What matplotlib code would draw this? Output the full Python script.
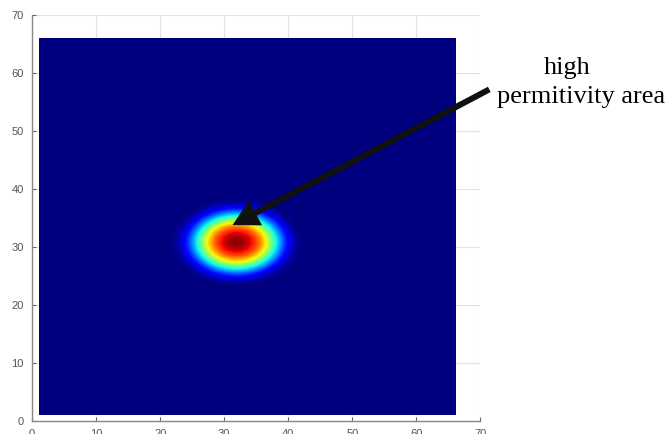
import matplotlib
matplotlib.use("Agg")
import matplotlib.pyplot as plt
import numpy as np

# grid of the field (cell edges 1..66 on both axes)
grid_lo, grid_hi = 1, 66
# blob centre
blob_x, blob_y = 31.8, 30.8
# the blob is wider than tall
blob_aspect = 0.74
# field value vs. horizontal distance from centre
prof_r = [0, 1, 2, 3, 4, 5, 6, 7, 8, 9, 10]
prof_v = [1.0, 0.98, 0.93, 0.85, 0.74, 0.58, 0.40, 0.25, 0.12, 0.04, 0.0]

ticks = [0, 10, 20, 30, 40, 50, 60, 70]
label_top = "high"
label_bottom = "permitivity area"

# build field from the profile
cx = np.arange(grid_lo, grid_hi) + 0.5
X, Y = np.meshgrid(cx, cx)
R = np.sqrt((X - blob_x)**2 + ((Y - blob_y) / blob_aspect)**2)
Z = np.interp(R, prof_r, prof_v)

fig = plt.figure(figsize=(6.69, 4.34), dpi=100)
ax = fig.add_axes([0.048, 0.03, 0.67, 0.935])

im = ax.imshow(Z, cmap="jet", origin="lower", vmin=0, vmax=1,
               extent=[grid_lo, grid_hi, grid_lo, grid_hi],
               interpolation="bilinear", aspect="auto", zorder=1)

ax.set_xlim(0, 70)
ax.set_ylim(0, 70)
ax.set_xticks(ticks)
ax.set_yticks(ticks)
ax.grid(True, color="#e3e3e3", linewidth=0.8)
ax.set_axisbelow(True)

for s in ["top", "right"]:
    ax.spines[s].set_visible(False)
for s in ["left", "bottom"]:
    ax.spines[s].set_color("#888888")
    ax.spines[s].set_linewidth(1.0)

ax.tick_params(direction="in", length=3, color="#666666", labelcolor="#555555",
               labelsize=8, pad=6)
for lab in ax.get_xticklabels() + ax.get_yticklabels():
    lab.set_family("Liberation Sans")

# arrow from the label to the blob
ax.annotate("", xy=(31.3, 33.8), xytext=(71.4, 57.2),
            arrowprops=dict(arrowstyle="-|>,head_length=1.2,head_width=0.65",
                            color="#111111", lw=4.3, shrinkA=0, shrinkB=0,
                            mutation_scale=10, capstyle="butt",
                            joinstyle="miter"),
            annotation_clip=False)

fig.text(567/669, 1 - 68/434, label_top, family="Liberation Serif",
         fontsize=19, ha="center", va="center")
fig.text(581/669, 1 - 97/434, label_bottom, family="Liberation Serif",
         fontsize=19, ha="center", va="center")

fig.savefig("out.png", dpi=100)
